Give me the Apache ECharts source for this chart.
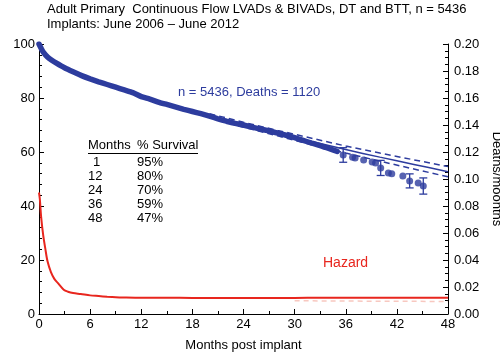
<!DOCTYPE html>
<html>
<head>
<meta charset="utf-8">
<script src="https://cdn.jsdelivr.net/npm/echarts@6/dist/echarts.min.js"></script>
<style>
  html, body { margin: 0; padding: 0; background: #fff; }
  #main { width: 500px; height: 352px; }
</style>
</head>
<body>
<div id="main"></div>
<script>
// Kaplan-Meier survival (thick curve)
var kmMonths = [0, 0.25, 0.5, 1, 1.5, 2, 3, 4, 5, 6, 7, 8, 9, 10, 11, 12, 13, 14, 15, 16, 17, 18, 19, 20, 21, 22, 23, 24, 25, 26, 27, 28, 29, 30, 31, 32, 33, 34, 35];
var kmSurvival = [100, 98.4, 97, 95.2, 94, 93, 91.2, 89.7, 88.3, 87.1, 86, 85, 84, 83, 82, 80.5, 79.6, 78.5, 77.6, 76.7, 75.8, 75, 74.2, 73.3, 72.3, 71.4, 70.6, 70, 69.2, 68.5, 67.8, 67, 66.2, 65.3, 64.3, 63.3, 62.4, 61.3, 60.2];

// late KM estimates drawn as dots
var dotMonths = [35.7, 36.8, 37.1, 38.1, 39.1, 39.5, 40.1, 41.0, 41.4, 42.7, 43.5, 44.5, 45.1];
var dotSurvival = [58.9, 58.1, 57.8, 57.0, 56.3, 55.9, 54.1, 52.2, 51.9, 51.1, 49.3, 48.5, 47.4];

// error bars on some dots
var errMonths = [35.7, 40.1, 43.5, 45.1];
var errLow = [56.2, 51.3, 46.7, 44.4];
var errHigh = [61.6, 56.9, 51.9, 50.4];

// parametric fit + confidence limits
var fitMonths = [0, 1, 2, 3, 4, 6, 8, 10, 12, 15, 18, 21, 24, 28, 32, 36, 40, 44, 48];
var fitSurvival = [100, 95.3, 93, 91.2, 89.7, 87.1, 85, 83, 80.8, 77.9, 75.2, 72.6, 70.1, 67, 63.9, 60.9, 58.1, 55.4, 52.7];
var ciMonths = [20, 24, 28, 32, 36, 40, 44, 48];
var ciUpper = [74.2, 71.0, 68.0, 65.1, 62.2, 59.6, 57.1, 54.6];
var ciLower = [72.8, 69.2, 66.0, 62.7, 59.6, 56.6, 53.7, 50.8];

// hazard (deaths/month)
var hazMonths = [0, 0.1, 0.25, 0.5, 0.75, 1, 1.4, 1.8, 2.2, 2.9, 3.4, 4, 4.9, 6, 7, 8, 9, 10, 12, 15, 18, 21, 24, 27, 30, 33, 36, 39, 42, 45, 48];
var hazard = [0.090, 0.085, 0.072, 0.058, 0.048, 0.039, 0.031, 0.026, 0.023, 0.018, 0.0165, 0.0155, 0.0148, 0.0138, 0.0133, 0.0128, 0.0124, 0.0122, 0.012, 0.012, 0.0119, 0.0119, 0.0119, 0.0119, 0.0119, 0.012, 0.012, 0.012, 0.012, 0.012, 0.012];
// faint lower confidence limit of the hazard
var hazCiMonths = [30, 36, 42, 48];
var hazCiLower = [0.0098, 0.0096, 0.0094, 0.0093];

// survival table
var tableMonths = ['1', '12', '24', '36', '48'];
var tableSurvival = ['95%', '80%', '70%', '59%', '47%'];

var blue = '#2d3c9e';
var red = '#e8261e';
var font = 'Liberation Sans, Arial, sans-serif';

function pairs(xs, ys) {
  return xs.map(function (x, i) { return [x, ys[i]]; });
}

var tableText = [];
tableText.push({ type: 'text', left: 88, top: 139, style: { text: 'Months', font: '13px ' + font, fill: '#000' } });
tableText.push({ type: 'text', left: 137, top: 139, style: { text: '% Survival', font: '13px ' + font, fill: '#000' } });
tableText.push({ type: 'line', shape: { x1: 88, y1: 153.5, x2: 198, y2: 153.5 }, style: { stroke: '#000', lineWidth: 1 } });
tableMonths.forEach(function (m, i) {
  tableText.push({ type: 'text', left: m.length == 1 ? 93 : 88, top: 156 + i * 14, style: { text: m, font: '13px ' + font, fill: '#000' } });
  tableText.push({ type: 'text', left: 137, top: 156 + i * 14, style: { text: tableSurvival[i], font: '13px ' + font, fill: '#000' } });
});

var myChart = echarts.init(document.getElementById('main'));
var option = {
  animation: false,
  backgroundColor: '#fff',
  title: {
    text: 'Adult Primary  Continuous Flow LVADs & BIVADs, DT and BTT, n = 5436\nImplants: June 2006 \u2013 June 2012',
    left: 42, top: -3,
    textStyle: { fontFamily: font, fontSize: 13, fontWeight: 'normal', color: '#000', lineHeight: 15 }
  },
  grid: { left: 39, right: 52, top: 44, bottom: 38, outerBoundsMode: 'none', containLabel: false },
  xAxis: {
    type: 'value', min: 0, max: 48, interval: 6,
    name: 'Months post implant', nameLocation: 'middle', nameGap: 25,
    nameTextStyle: { fontFamily: font, fontSize: 13, color: '#000' },
    axisLine: { lineStyle: { color: '#000', width: 1 } },
    axisTick: { inside: true, length: 5, lineStyle: { color: '#000' } },
    minorTick: { show: true, splitNumber: 2, length: 3, lineStyle: { color: '#000' } },
    axisLabel: { fontFamily: font, fontSize: 13, color: '#000', margin: 4 },
    splitLine: { show: false }
  },
  yAxis: [{
    type: 'value', min: 0, max: 100, interval: 20,
    name: '% Survival', nameLocation: 'middle', nameGap: 31, nameRotate: 90,
    nameTextStyle: { fontFamily: font, fontSize: 13, color: '#000' },
    axisLine: { show: true, lineStyle: { color: '#000', width: 1 } },
    axisTick: { show: true, inside: true, length: 5, lineStyle: { color: '#000' } },
    minorTick: { show: true, splitNumber: 5, length: 3, lineStyle: { color: '#000' } },
    axisLabel: { fontFamily: font, fontSize: 13, color: '#000', margin: 4 },
    splitLine: { show: false }
  }, {
    type: 'value', min: 0, max: 0.2, interval: 0.02, position: 'right',
    name: 'Deaths/moonths', nameLocation: 'middle', nameGap: 35, nameRotate: -90,
    nameTextStyle: { fontFamily: font, fontSize: 13, color: '#000' },
    axisLine: { show: true, lineStyle: { color: '#000', width: 1 } },
    axisTick: { show: true, inside: true, length: 5, lineStyle: { color: '#000' } },
    minorTick: { show: true, splitNumber: 4, length: 3, lineStyle: { color: '#000' } },
    axisLabel: { fontFamily: font, fontSize: 13, color: '#000', margin: 6,
      formatter: function (v) { return v.toFixed(2); } },
    splitLine: { show: false }
  }],
  graphic: [
    { type: 'text', left: 178, top: 86, style: { text: 'n = 5436, Deaths = 1120', font: '13px ' + font, fill: blue } },
    { type: 'text', left: 323, top: 256, style: { text: 'Hazard', font: '14px ' + font, fill: red } }
  ].concat(tableText),
  series: [
    {
      type: 'line', data: pairs(ciMonths, ciUpper), symbol: 'none', silent: true,
      lineStyle: { color: blue, width: 1.5, type: [6, 4] }
    },
    {
      type: 'line', data: pairs(ciMonths, ciLower), symbol: 'none', silent: true,
      lineStyle: { color: blue, width: 1.5, type: [6, 4] }
    },
    {
      type: 'line', data: pairs(fitMonths, fitSurvival), symbol: 'none', smooth: 0.3, silent: true,
      lineStyle: { color: blue, width: 1.5 }
    },
    {
      type: 'line', data: pairs(kmMonths, kmSurvival), symbol: 'none', smooth: 0.2, silent: true,
      lineStyle: { color: blue, width: 5.5, cap: 'round' }
    },
    {
      type: 'scatter', data: pairs(dotMonths, dotSurvival), symbol: 'circle', symbolSize: 7, silent: true,
      itemStyle: { color: blue }
    },
    {
      type: 'custom', silent: true,
      data: errMonths.map(function (m, i) { return [m, errLow[i], errHigh[i]]; }),
      renderItem: function (params, api) {
        var lo = api.coord([api.value(0), api.value(1)]);
        var hi = api.coord([api.value(0), api.value(2)]);
        var w = 4;
        var st = { stroke: blue, lineWidth: 1.3 };
        return {
          type: 'group',
          children: [
            { type: 'line', shape: { x1: lo[0], y1: lo[1], x2: hi[0], y2: hi[1] }, style: st },
            { type: 'line', shape: { x1: lo[0] - w, y1: lo[1], x2: lo[0] + w, y2: lo[1] }, style: st },
            { type: 'line', shape: { x1: hi[0] - w, y1: hi[1], x2: hi[0] + w, y2: hi[1] }, style: st }
          ]
        };
      }
    },
    {
      type: 'line', yAxisIndex: 1, data: pairs(hazCiMonths, hazCiLower), symbol: 'none', silent: true,
      lineStyle: { color: '#f8c8c0', width: 1.5, type: [5, 4] }
    },
    {
      type: 'line', yAxisIndex: 1, data: pairs(hazMonths, hazard), symbol: 'none', smooth: 0.3, silent: true,
      lineStyle: { color: red, width: 2 }
    }
  ]
};
myChart.setOption(option);
</script>
</body>
</html>
